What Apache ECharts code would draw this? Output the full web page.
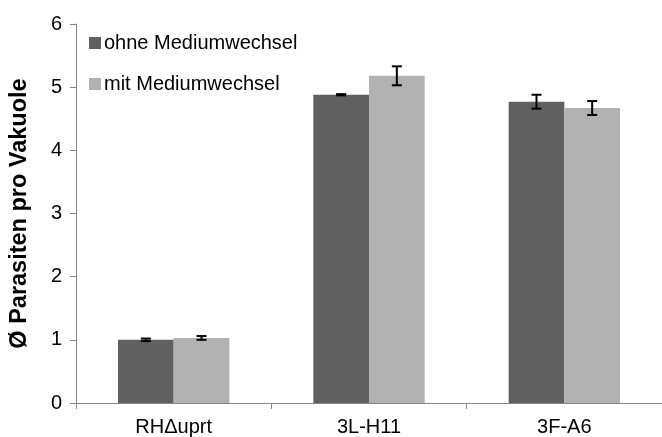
<!DOCTYPE html>
<html><head><meta charset="utf-8">
<script src="https://cdn.jsdelivr.net/npm/echarts@6/dist/echarts.min.js"></script>
<style>html,body{margin:0;padding:0;background:#fff}#c{width:662px;height:437px}</style>
</head><body><div id="c"></div>
<script>
var categories = ['RH\u0394uprt', '3L-H11', '3F-A6'];
var seriesNames = ['ohne Mediumwechsel', 'mit Mediumwechsel'];
var ohne = [1.00, 4.88, 4.77];
var ohneErr = [0.02, 0.01, 0.11];
var mit = [1.03, 5.18, 4.67];
var mitErr = [0.03, 0.15, 0.11];
var yTicks = [0, 1, 2, 3, 4, 5, 6];

var chart = echarts.init(document.getElementById('c'));
var font = 'Liberation Sans, Arial, sans-serif';

function errSeries(vals, errs, idx) {
  return {
    type: 'custom',
    z: 10,
    silent: true,
    data: vals.map(function (v, i) { return [i, v - errs[i], v + errs[i]]; }),
    renderItem: function (params, api) {
      var lo = api.coord([api.value(0), api.value(1)]);
      var hi = api.coord([api.value(0), api.value(2)]);
      var bw = api.size([1, 0])[0];
      var barW = bw * 0.285;
      var x = lo[0] + (idx === 0 ? -barW / 2 : barW / 2);
      var cap = 5;
      var style = { stroke: '#000', lineWidth: 2, fill: null };
      return { type: 'group', children: [
        { type: 'line', shape: { x1: x, y1: lo[1], x2: x, y2: hi[1] }, style: style },
        { type: 'line', shape: { x1: x - cap, y1: lo[1], x2: x + cap, y2: lo[1] }, style: style },
        { type: 'line', shape: { x1: x - cap, y1: hi[1], x2: x + cap, y2: hi[1] }, style: style }
      ]};
    }
  };
}

chart.setOption({
  animation: false,
  backgroundColor: '#fff',
  grid: { left: 68, top: 24, width: 599, bottom: 34, containLabel: false },
  legend: {
    data: seriesNames,
    orient: 'vertical',
    left: 84, top: 28,
    itemWidth: 12, itemHeight: 12, itemGap: 21,
    icon: 'rect',
    textStyle: { fontFamily: font, fontSize: 20, color: '#000', padding: [0, 0, 0, -2] }
  },
  xAxis: {
    type: 'category',
    data: categories,
    axisLine: { lineStyle: { color: '#868686', width: 1 } },
    axisTick: { show: true, length: 6, lineStyle: { color: '#868686' }, alignWithLabel: false },
    axisLabel: { fontFamily: font, fontSize: 20, color: '#000', margin: 14 }
  },
  yAxis: {
    type: 'value',
    min: yTicks[0], max: yTicks[yTicks.length - 1], interval: 1,
    name: '\u00D8 Parasiten pro Vakuole',
    nameLocation: 'middle',
    nameGap: 44,
    nameTextStyle: { fontFamily: font, fontSize: 23.5, fontWeight: 'bold', color: '#000' },
    axisLine: { show: true, lineStyle: { color: '#868686', width: 1 } },
    axisTick: { show: true, length: 6, lineStyle: { color: '#868686' } },
    splitLine: { show: false },
    axisLabel: { fontFamily: font, fontSize: 20, color: '#000', margin: 14 }
  },
  series: [
    { name: seriesNames[0], type: 'bar', data: ohne, barWidth: '28.5%', barGap: '0%',
      itemStyle: { color: '#606060' } },
    { name: seriesNames[1], type: 'bar', data: mit, barWidth: '28.5%', barGap: '0%',
      itemStyle: { color: '#b2b2b2' } },
    errSeries(ohne, ohneErr, 0),
    errSeries(mit, mitErr, 1)
  ]
});
</script></body></html>
